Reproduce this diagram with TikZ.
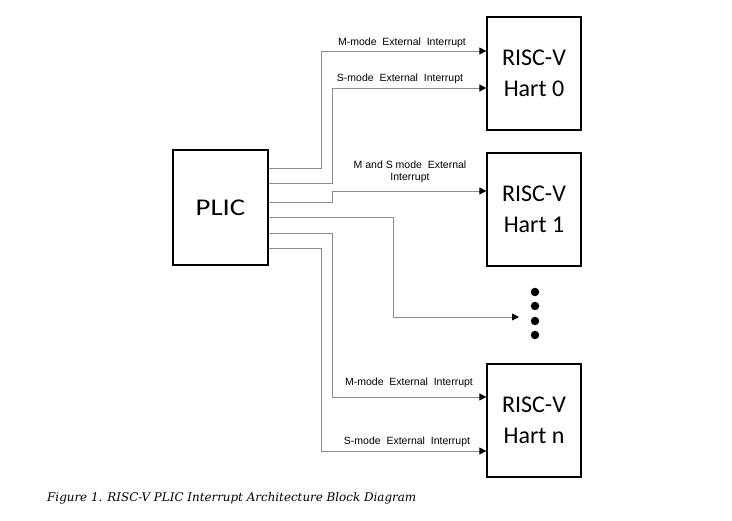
\documentclass[tikz,border=0pt]{standalone}
\usepackage{fontspec}
\setmainfont{Liberation Sans}
\newfontfamily\boxfont{Carlito}
\newfontfamily\capfont{DejaVu Serif}
\usetikzlibrary{arrows.meta}
\begin{document}
\begin{tikzpicture}[x=1pt,y=-1pt,
  blk/.style={draw=black,line width=1.3pt,fill=white,inner sep=0pt,align=center,
    font=\boxfont\fontsize{24}{30.5}\selectfont},
  wire/.style={draw=black!45,line width=0.9pt,-{Triangle[length=7pt,width=7pt,fill=black,color=black]}},
  lbl/.style={font=\fontsize{10.5}{12.5}\selectfont,inner sep=0pt,align=center},
  dot/.style={circle,fill=black,minimum size=8.5pt,inner sep=0pt}]
\useasboundingbox (0,0) rectangle (732,521);
\node[blk,minimum width=95pt,minimum height=115pt] (plic) at (220.5,207.5) {\scalebox{1.2}[1]{PLIC}};
\node[blk,minimum width=94pt,minimum height=113pt] (h0) at (534,73.5) {RISC-V\\Hart 0};
\node[blk,minimum width=94pt,minimum height=113pt] (h1) at (534,209.5) {RISC-V\\Hart 1};
\node[blk,minimum width=94pt,minimum height=113pt] (hn) at (534,420.5) {RISC-V\\Hart n};
\node[dot] (d1) at (535,292) {};
\node[dot] (d2) at (535,306) {};
\node[dot] (d3) at (535,321) {};
\node[dot] (d4) at (535,335) {};
\coordinate (dt) at (519,317);
% wires
\draw[wire] (plic.east |- 0,168) -- (321,168) -- (321,51) -- (h0.west |- 0,51);
\draw[wire] (plic.east |- 0,183) -- (332,183) -- (332,88) -- (h0.west |- 0,88);
\draw[wire] (plic.east |- 0,202) -- (332,202) -- (332,191) -- (h1.west |- 0,191);
\draw[wire] (plic.east |- 0,217) -- (393,217) -- (393,317) -- (dt);
\draw[wire] (plic.east |- 0,233) -- (332,233) -- (332,397) -- (hn.west |- 0,397);
\draw[wire] (plic.east |- 0,248) -- (321,248) -- (321,451) -- (hn.west |- 0,451);
% labels
\node[lbl] (l1) at (402,43) {M-mode\ \ External\ \ Interrupt};
\node[lbl] (l2) at (400,79) {S-mode\ \ External\ \ Interrupt};
\node[lbl] (l3) at (410,172) {M and S mode\ \ External\\Interrupt};
\node[lbl] (l4) at (409,383) {M-mode\ \ External\ \ Interrupt};
\node[lbl] (l5) at (407,442) {S-mode\ \ External\ \ Interrupt};
\node[anchor=west,inner sep=0pt,font=\capfont\itshape\fontsize{11.9}{13}\selectfont] (cap) at (47,498) {Figure 1. RISC-V PLIC Interrupt Architecture Block Diagram};
\end{tikzpicture}
\end{document}
